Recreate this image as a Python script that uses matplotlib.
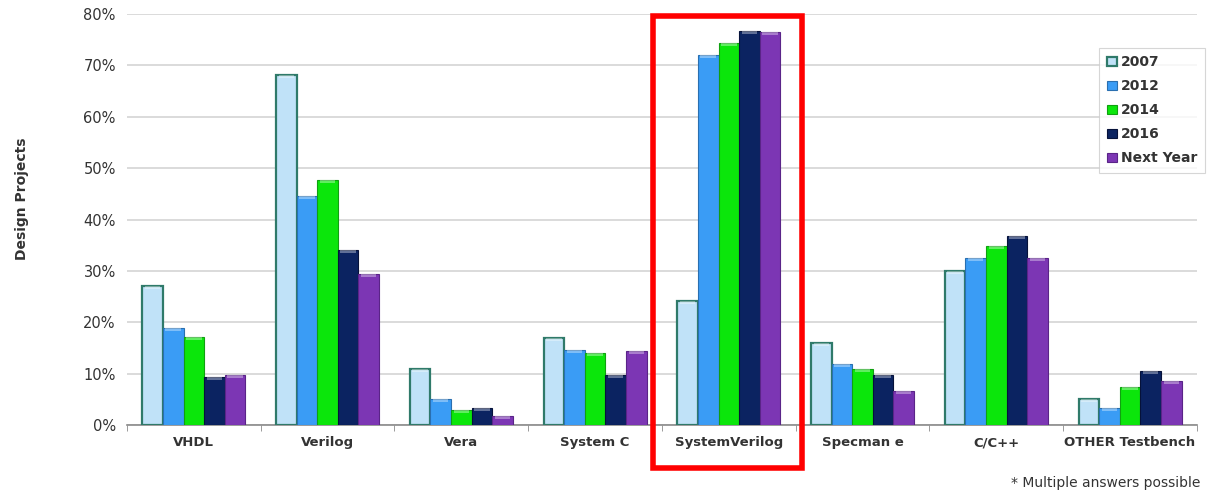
import numpy as np
import matplotlib
matplotlib.use('Agg')
import matplotlib.pyplot as plt
from matplotlib.patches import Rectangle
from matplotlib.ticker import PercentFormatter

categories = ['VHDL', 'Verilog', 'Vera', 'System C', 'SystemVerilog',
              'Specman e', 'C/C++', 'OTHER Testbench']
years = ['2007', '2012', '2014', '2016', 'Next Year']

v2007 = [27.0, 68.1, 10.9, 17.0, 24.1, 16.0, 30.0, 5.1]
v2012 = [18.9, 44.6, 5.1, 14.6, 72.0, 11.9, 32.5, 3.3]
v2014 = [17.1, 47.7, 2.9, 14.0, 74.3, 10.9, 34.8, 7.4]
v2016 = [9.3, 34.0, 3.3, 9.7, 76.7, 9.7, 36.8, 10.5]
vnext = [9.7, 29.4, 1.8, 14.4, 76.5, 6.6, 32.5, 8.6]
series = [v2007, v2012, v2014, v2016, vnext]

faces = ['#c0e2f8', '#3a9cf5', '#0be60b', '#0b2361', '#7c36b4']
edges = ['#2f7a6a', '#2a6fb0', '#10a010', '#06123a', '#5a2488']

fig = plt.figure(figsize=(12.09, 5.0), dpi=100)
ax = fig.add_axes([0.105, 0.15, 0.885, 0.822])

x = np.arange(len(categories))
w = 0.154
for i, (vals, fc, ec, yr) in enumerate(zip(series, faces, edges, years)):
    pos = x + (i - 2) * w
    ax.bar(pos, vals, width=w, color=fc, edgecolor=ec, linewidth=1.6 if i == 0 else 0.8,
           label=yr, zorder=3)
    # light cap on top of each bar
    ax.bar(pos, [0.6] * len(vals), bottom=np.array(vals) - 0.6, width=w * 0.75,
           color='white', alpha=0.35, linewidth=0, zorder=4)

ax.set_xlim(-0.5, len(categories) - 0.5)
ax.set_ylim(0, 80)
ax.set_yticks(np.arange(0, 81, 10))
ax.yaxis.set_major_formatter(PercentFormatter(decimals=0))
ax.grid(axis='y', color='#d4d4d4', linewidth=1.2, zorder=0)
for s in ['top', 'right', 'left']:
    ax.spines[s].set_visible(False)
ax.spines['bottom'].set_color('#8a8a8a')
ax.spines['bottom'].set_linewidth(1.2)

ax.set_xticks(x)
ax.set_xticklabels(categories, fontsize=9.5, fontweight='bold', color='#333333')
ax.set_xticks(np.arange(-0.5, len(categories), 1), minor=True)
ax.tick_params(axis='x', which='major', length=0, pad=8)
ax.tick_params(axis='x', which='minor', length=4, color='#8a8a8a')
ax.tick_params(axis='y', length=0, labelsize=10.5, labelcolor='#333333', pad=8)

ax.set_ylabel('Design Projects', fontsize=10, fontweight='bold', color='#333333')
ax.yaxis.set_label_coords(-0.092, 0.55)

leg = ax.legend(loc='upper right', bbox_to_anchor=(1.014, 0.935), frameon=True,
                prop={'weight': 'bold', 'size': 10},
                handlelength=0.7, handleheight=0.7, handletextpad=0.3,
                labelspacing=0.72, borderpad=0.55, fancybox=False)
leg.get_frame().set_edgecolor('#cccccc')
leg.get_frame().set_linewidth(0.8)
for t in leg.get_texts():
    t.set_color('#333333')

# highlight box around SystemVerilog
hl = Rectangle((3.433, -0.105), 1.114, 1.1, transform=ax.get_xaxis_transform(),
               fill=False, edgecolor='#ff0000', linewidth=4, clip_on=False, zorder=5)
ax.add_patch(hl)

fig.text(0.993, 0.02, '* Multiple answers possible', ha='right', va='bottom',
         fontsize=10, color='#333333')

fig.savefig('out.png', dpi=100)
